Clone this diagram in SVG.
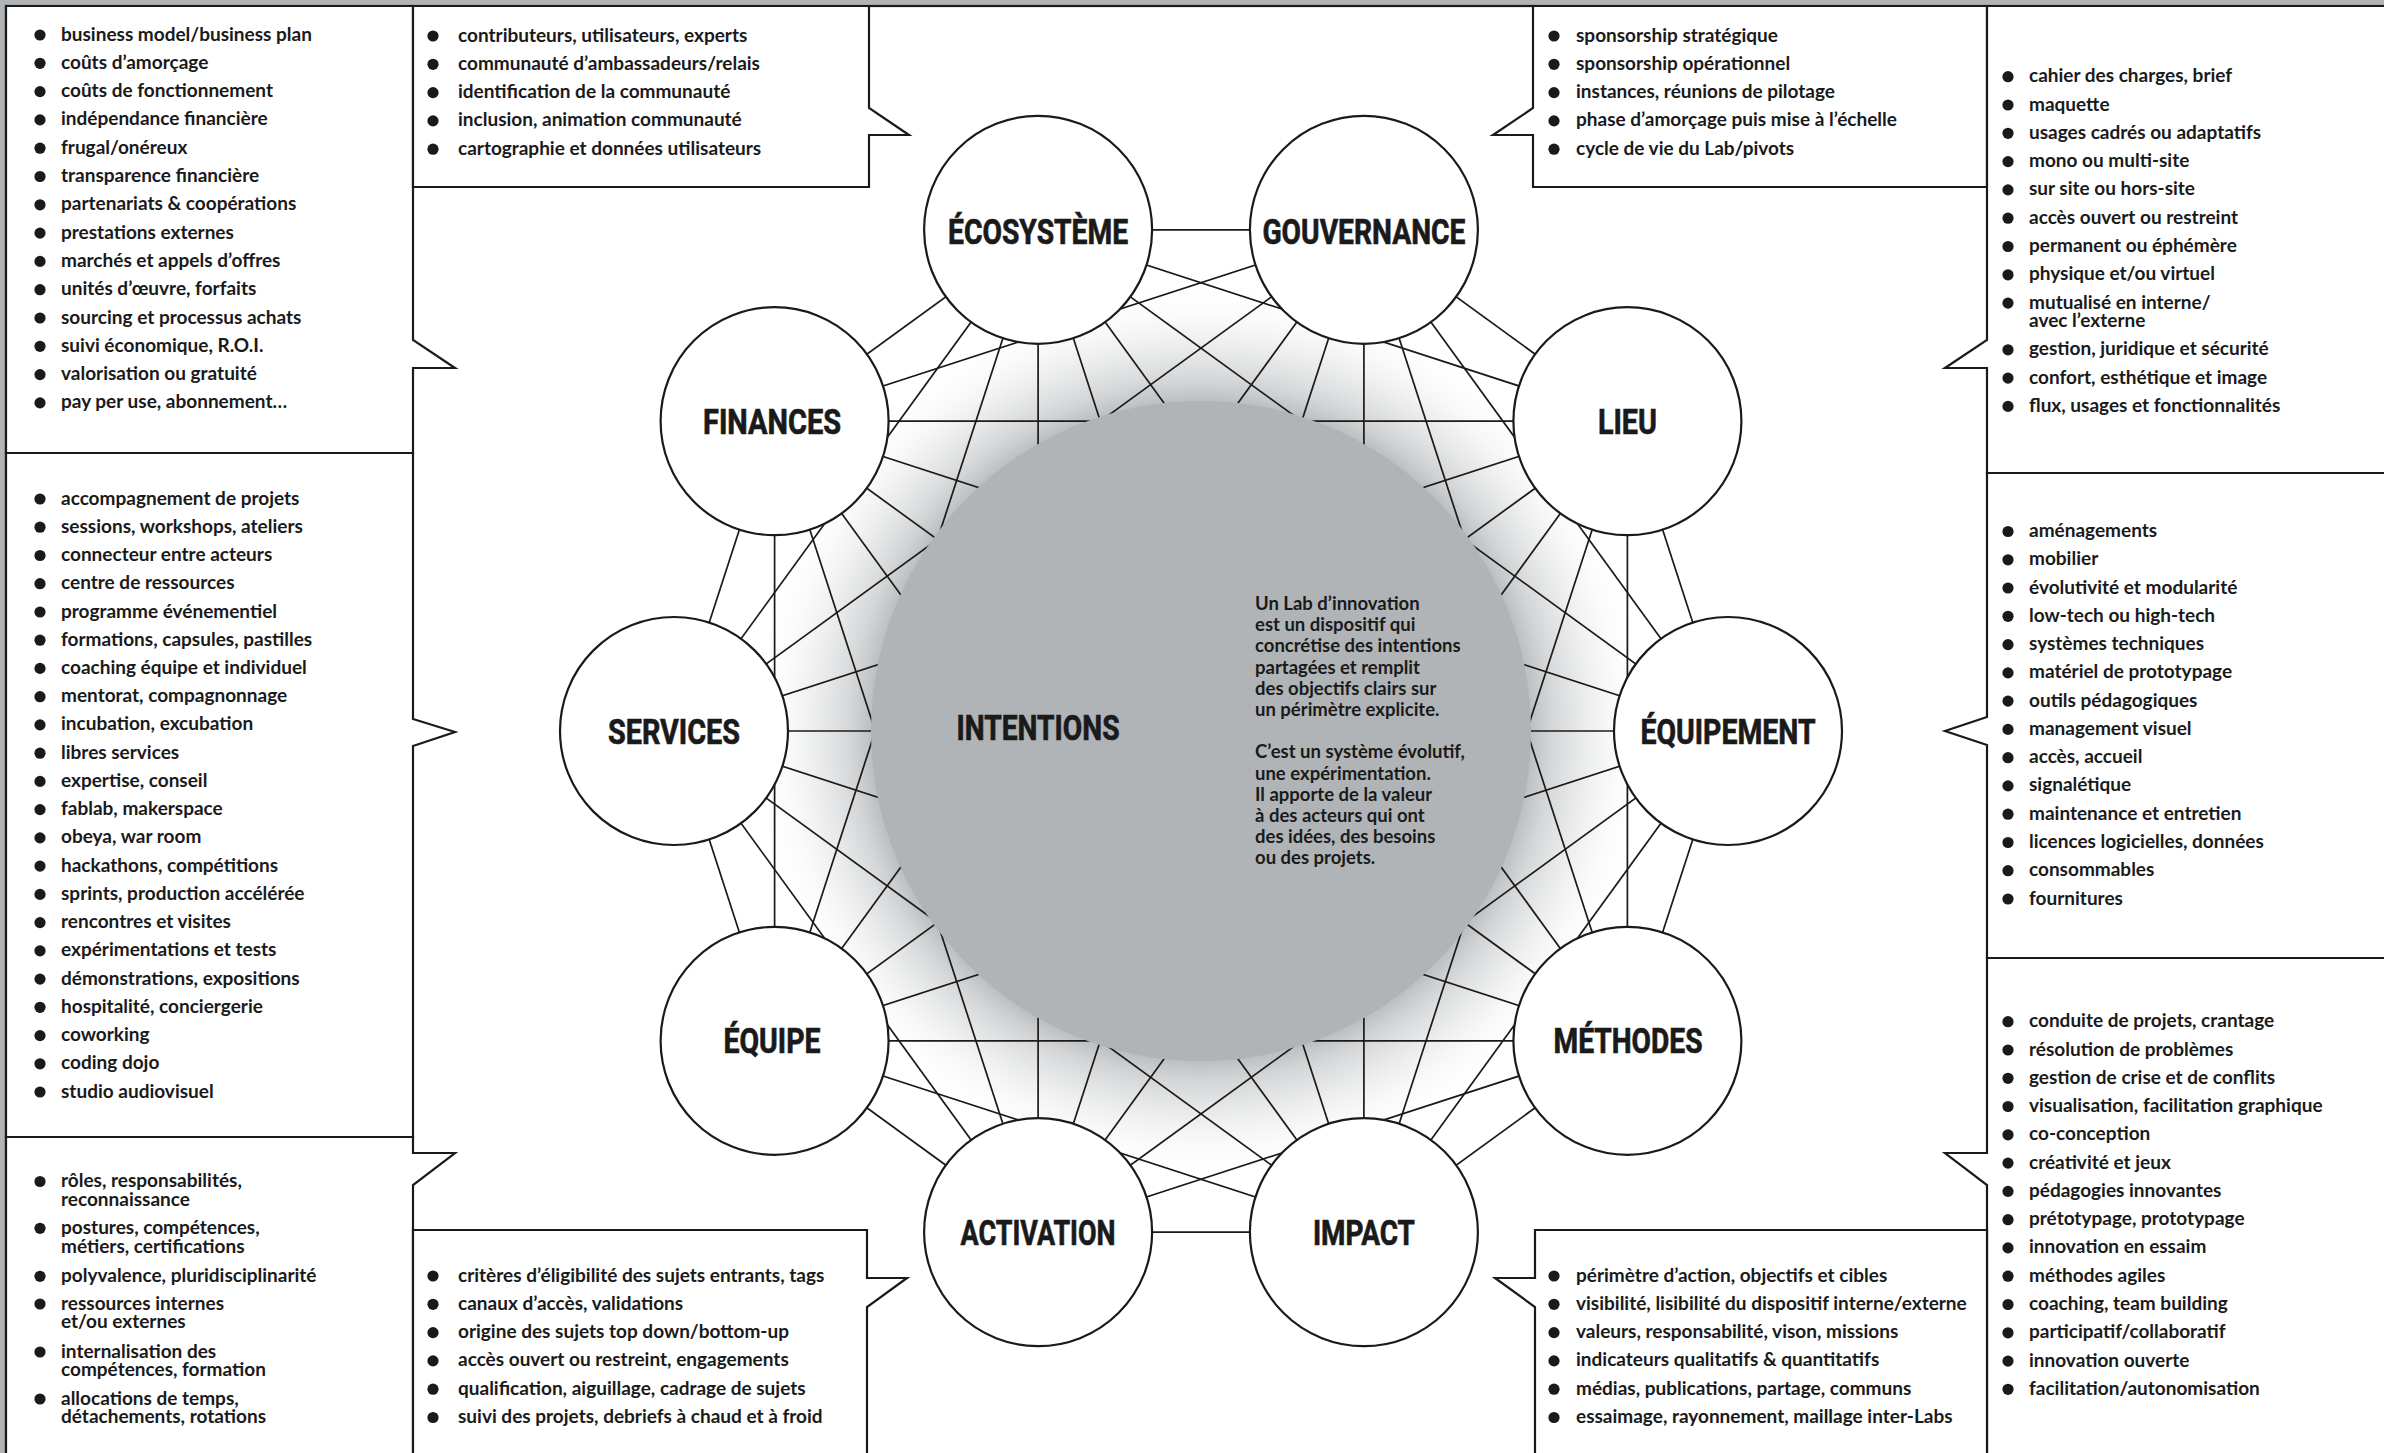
<svg xmlns="http://www.w3.org/2000/svg" xmlns:xlink="http://www.w3.org/1999/xlink" width="2384" height="1453" viewBox="0 0 2384 1453">
<style>
.box{fill:#fff;stroke:#1a1a1a;stroke-width:2.2;stroke-linejoin:miter}
.lst{font-family:Lato,"Liberation Sans",sans-serif;font-size:19px;font-weight:700;fill:#1a1a1a}
.bul{fill:#1a1a1a}
.nc{fill:#fff;stroke:#1a1a1a;stroke-width:2.2}
.lbl{font-family:Roboto,"Liberation Sans",sans-serif;font-weight:700;font-size:35px;fill:#1a1a1a;stroke:#1a1a1a;stroke-width:0.7;text-anchor:middle}
.edge{stroke:#1a1a1a;stroke-width:1.7}
.para{font-family:Lato,"Liberation Sans",sans-serif;font-size:18.5px;font-weight:700;fill:#1a1a1a}
</style>
<defs>
<circle id="b" r="5.6" class="bul"/>
<radialGradient id="sh" cx="1201" cy="731" r="450" gradientUnits="userSpaceOnUse">
<stop offset="0.70" stop-color="#a9adb0" stop-opacity="1"/>
<stop offset="0.78" stop-color="#c9cbcd" stop-opacity="0.8"/>
<stop offset="0.9" stop-color="#eceded" stop-opacity="0.5"/>
<stop offset="1" stop-color="#ffffff" stop-opacity="0"/>
</radialGradient>
</defs>
<rect x="0" y="0" width="2384" height="1453" fill="#b0b4b6"/>
<rect x="6" y="6" width="2390" height="1460" fill="#fff" stroke="#1a1a1a" stroke-width="2.2"/>

<circle cx="1201" cy="731" r="450" fill="url(#sh)"/>

<g id="connectors">
<line class="edge" x1="674" y1="731" x2="774.6" y2="421.2"/>
<line class="edge" x1="674" y1="731" x2="1038.1" y2="229.8"/>
<line class="edge" x1="674" y1="731" x2="1363.9" y2="229.8"/>
<line class="edge" x1="674" y1="731" x2="1627.4" y2="421.2"/>
<line class="edge" x1="674" y1="731" x2="1728" y2="731"/>
<line class="edge" x1="674" y1="731" x2="1627.4" y2="1040.8"/>
<line class="edge" x1="674" y1="731" x2="1363.9" y2="1232.2"/>
<line class="edge" x1="674" y1="731" x2="1038.1" y2="1232.2"/>
<line class="edge" x1="674" y1="731" x2="774.6" y2="1040.8"/>
<line class="edge" x1="774.6" y1="421.2" x2="1038.1" y2="229.8"/>
<line class="edge" x1="774.6" y1="421.2" x2="1363.9" y2="229.8"/>
<line class="edge" x1="774.6" y1="421.2" x2="1627.4" y2="421.2"/>
<line class="edge" x1="774.6" y1="421.2" x2="1728" y2="731"/>
<line class="edge" x1="774.6" y1="421.2" x2="1627.4" y2="1040.8"/>
<line class="edge" x1="774.6" y1="421.2" x2="1363.9" y2="1232.2"/>
<line class="edge" x1="774.6" y1="421.2" x2="1038.1" y2="1232.2"/>
<line class="edge" x1="774.6" y1="421.2" x2="774.6" y2="1040.8"/>
<line class="edge" x1="1038.1" y1="229.8" x2="1363.9" y2="229.8"/>
<line class="edge" x1="1038.1" y1="229.8" x2="1627.4" y2="421.2"/>
<line class="edge" x1="1038.1" y1="229.8" x2="1728" y2="731"/>
<line class="edge" x1="1038.1" y1="229.8" x2="1627.4" y2="1040.8"/>
<line class="edge" x1="1038.1" y1="229.8" x2="1363.9" y2="1232.2"/>
<line class="edge" x1="1038.1" y1="229.8" x2="1038.1" y2="1232.2"/>
<line class="edge" x1="1038.1" y1="229.8" x2="774.6" y2="1040.8"/>
<line class="edge" x1="1363.9" y1="229.8" x2="1627.4" y2="421.2"/>
<line class="edge" x1="1363.9" y1="229.8" x2="1728" y2="731"/>
<line class="edge" x1="1363.9" y1="229.8" x2="1627.4" y2="1040.8"/>
<line class="edge" x1="1363.9" y1="229.8" x2="1363.9" y2="1232.2"/>
<line class="edge" x1="1363.9" y1="229.8" x2="1038.1" y2="1232.2"/>
<line class="edge" x1="1363.9" y1="229.8" x2="774.6" y2="1040.8"/>
<line class="edge" x1="1627.4" y1="421.2" x2="1728" y2="731"/>
<line class="edge" x1="1627.4" y1="421.2" x2="1627.4" y2="1040.8"/>
<line class="edge" x1="1627.4" y1="421.2" x2="1363.9" y2="1232.2"/>
<line class="edge" x1="1627.4" y1="421.2" x2="1038.1" y2="1232.2"/>
<line class="edge" x1="1627.4" y1="421.2" x2="774.6" y2="1040.8"/>
<line class="edge" x1="1728" y1="731" x2="1627.4" y2="1040.8"/>
<line class="edge" x1="1728" y1="731" x2="1363.9" y2="1232.2"/>
<line class="edge" x1="1728" y1="731" x2="1038.1" y2="1232.2"/>
<line class="edge" x1="1728" y1="731" x2="774.6" y2="1040.8"/>
<line class="edge" x1="1627.4" y1="1040.8" x2="1363.9" y2="1232.2"/>
<line class="edge" x1="1627.4" y1="1040.8" x2="1038.1" y2="1232.2"/>
<line class="edge" x1="1627.4" y1="1040.8" x2="774.6" y2="1040.8"/>
<line class="edge" x1="1363.9" y1="1232.2" x2="1038.1" y2="1232.2"/>
<line class="edge" x1="1363.9" y1="1232.2" x2="774.6" y2="1040.8"/>
<line class="edge" x1="1038.1" y1="1232.2" x2="774.6" y2="1040.8"/>
</g>

<g id="intentions">
<circle cx="1201" cy="731" r="330" fill="#b0b4b6"/>
<text class="lbl" x="1038" y="740" textLength="163" lengthAdjust="spacingAndGlyphs">INTENTIONS</text>
<text class="para">
<tspan x="1255" y="610">Un Lab d’innovation</tspan>
<tspan x="1255" y="631.2">est un dispositif qui</tspan>
<tspan x="1255" y="652.4">concrétise des intentions</tspan>
<tspan x="1255" y="673.6">partagées et remplit</tspan>
<tspan x="1255" y="694.8">des objectifs clairs sur</tspan>
<tspan x="1255" y="716">un périmètre explicite.</tspan>
<tspan x="1255" y="758.4">C’est un système évolutif,</tspan>
<tspan x="1255" y="779.6">une expérimentation.</tspan>
<tspan x="1255" y="800.8">Il apporte de la valeur</tspan>
<tspan x="1255" y="822">à des acteurs qui ont</tspan>
<tspan x="1255" y="843.2">des idées, des besoins</tspan>
<tspan x="1255" y="864.4">ou des projets.</tspan>
</text>
</g>

<g id="node-services"><circle class="nc" cx="674" cy="731" r="114"/><text class="lbl" x="674" y="743.5" textLength="132" lengthAdjust="spacingAndGlyphs">SERVICES</text></g>
<g id="node-finances"><circle class="nc" cx="774.6" cy="421.2" r="114"/><text class="lbl" x="772" y="433.7" textLength="138" lengthAdjust="spacingAndGlyphs">FINANCES</text></g>
<g id="node-ecosysteme"><circle class="nc" cx="1038.1" cy="229.8" r="114"/><text class="lbl" x="1038.1" y="244" textLength="180" lengthAdjust="spacingAndGlyphs">ÉCOSYSTÈME</text></g>
<g id="node-gouvernance"><circle class="nc" cx="1363.9" cy="229.8" r="114"/><text class="lbl" x="1363.9" y="244" textLength="203" lengthAdjust="spacingAndGlyphs">GOUVERNANCE</text></g>
<g id="node-lieu"><circle class="nc" cx="1627.4" cy="421.2" r="114"/><text class="lbl" x="1627.4" y="433.7" textLength="59" lengthAdjust="spacingAndGlyphs">LIEU</text></g>
<g id="node-equipement"><circle class="nc" cx="1728" cy="731" r="114"/><text class="lbl" x="1728" y="743.5" textLength="175" lengthAdjust="spacingAndGlyphs">ÉQUIPEMENT</text></g>
<g id="node-methodes"><circle class="nc" cx="1627.4" cy="1040.8" r="114"/><text class="lbl" x="1628" y="1053.3" textLength="149" lengthAdjust="spacingAndGlyphs">MÉTHODES</text></g>
<g id="node-impact"><circle class="nc" cx="1363.9" cy="1232.2" r="114"/><text class="lbl" x="1363.9" y="1244.7" textLength="102" lengthAdjust="spacingAndGlyphs">IMPACT</text></g>
<g id="node-activation"><circle class="nc" cx="1038.1" cy="1232.2" r="114"/><text class="lbl" x="1038.1" y="1244.7" textLength="155" lengthAdjust="spacingAndGlyphs">ACTIVATION</text></g>
<g id="node-equipe"><circle class="nc" cx="774.6" cy="1040.8" r="114"/><text class="lbl" x="772" y="1053.3" textLength="97" lengthAdjust="spacingAndGlyphs">ÉQUIPE</text></g>

<g id="list-finances">
<path class="box" d="M6,6 H413 V340 L455,368 H413 V453 H6 Z"/>
<use href="#b" x="40" y="35"/><use href="#b" x="40" y="63.3"/><use href="#b" x="40" y="91.6"/><use href="#b" x="40" y="119.9"/><use href="#b" x="40" y="148.2"/><use href="#b" x="40" y="176.5"/><use href="#b" x="40" y="204.8"/><use href="#b" x="40" y="233.1"/><use href="#b" x="40" y="261.4"/><use href="#b" x="40" y="289.7"/><use href="#b" x="40" y="318"/><use href="#b" x="40" y="346.3"/><use href="#b" x="40" y="374.6"/><use href="#b" x="40" y="402.9"/>
<text class="lst">
<tspan x="61" y="40.5">business model/business plan</tspan>
<tspan x="61" y="68.8">coûts d’amorçage</tspan>
<tspan x="61" y="97.1">coûts de fonctionnement</tspan>
<tspan x="61" y="125.4">indépendance financière</tspan>
<tspan x="61" y="153.7">frugal/onéreux</tspan>
<tspan x="61" y="182">transparence financière</tspan>
<tspan x="61" y="210.3">partenariats &amp; coopérations</tspan>
<tspan x="61" y="238.6">prestations externes</tspan>
<tspan x="61" y="266.9">marchés et appels d’offres</tspan>
<tspan x="61" y="295.2">unités d’œuvre, forfaits</tspan>
<tspan x="61" y="323.5">sourcing et processus achats</tspan>
<tspan x="61" y="351.8">suivi économique, R.O.I.</tspan>
<tspan x="61" y="380.1">valorisation ou gratuité</tspan>
<tspan x="61" y="408.4">pay per use, abonnement…</tspan>
</text>
</g>

<g id="list-services">
<path class="box" d="M6,453 H413 V719 L455,732 L413,746 V1137 H6 Z"/>
<use href="#b" x="40" y="499"/><use href="#b" x="40" y="527.2"/><use href="#b" x="40" y="555.5"/><use href="#b" x="40" y="583.7"/><use href="#b" x="40" y="612"/><use href="#b" x="40" y="640.2"/><use href="#b" x="40" y="668.4"/><use href="#b" x="40" y="696.7"/><use href="#b" x="40" y="724.9"/><use href="#b" x="40" y="753.2"/><use href="#b" x="40" y="781.4"/><use href="#b" x="40" y="809.6"/><use href="#b" x="40" y="837.9"/><use href="#b" x="40" y="866.1"/><use href="#b" x="40" y="894.4"/><use href="#b" x="40" y="922.6"/><use href="#b" x="40" y="950.8"/><use href="#b" x="40" y="979.1"/><use href="#b" x="40" y="1007.3"/><use href="#b" x="40" y="1035.6"/><use href="#b" x="40" y="1063.8"/><use href="#b" x="40" y="1092"/>
<text class="lst">
<tspan x="61" y="504.5">accompagnement de projets</tspan>
<tspan x="61" y="532.7">sessions, workshops, ateliers</tspan>
<tspan x="61" y="561">connecteur entre acteurs</tspan>
<tspan x="61" y="589.2">centre de ressources</tspan>
<tspan x="61" y="617.5">programme événementiel</tspan>
<tspan x="61" y="645.7">formations, capsules, pastilles</tspan>
<tspan x="61" y="673.9">coaching équipe et individuel</tspan>
<tspan x="61" y="702.2">mentorat, compagnonnage</tspan>
<tspan x="61" y="730.4">incubation, excubation</tspan>
<tspan x="61" y="758.7">libres services</tspan>
<tspan x="61" y="786.9">expertise, conseil</tspan>
<tspan x="61" y="815.1">fablab, makerspace</tspan>
<tspan x="61" y="843.4">obeya, war room</tspan>
<tspan x="61" y="871.6">hackathons, compétitions</tspan>
<tspan x="61" y="899.9">sprints, production accélérée</tspan>
<tspan x="61" y="928.1">rencontres et visites</tspan>
<tspan x="61" y="956.3">expérimentations et tests</tspan>
<tspan x="61" y="984.6">démonstrations, expositions</tspan>
<tspan x="61" y="1012.8">hospitalité, conciergerie</tspan>
<tspan x="61" y="1041.1">coworking</tspan>
<tspan x="61" y="1069.3">coding dojo</tspan>
<tspan x="61" y="1097.5">studio audiovisuel</tspan>
</text>
</g>

<g id="list-equipe">
<path class="box" d="M6,1137 H413 V1153 H455 L413,1185 V1470 H6 Z"/>
<use href="#b" x="40" y="1181.5"/><use href="#b" x="40" y="1228.3"/><use href="#b" x="40" y="1276.3"/><use href="#b" x="40" y="1304"/><use href="#b" x="40" y="1352"/><use href="#b" x="40" y="1399"/>
<text class="lst">
<tspan x="61" y="1187">rôles, responsabilités,</tspan>
<tspan x="61" y="1205.7">reconnaissance</tspan>
<tspan x="61" y="1233.8">postures, compétences,</tspan>
<tspan x="61" y="1252.5">métiers, certifications</tspan>
<tspan x="61" y="1281.8">polyvalence, pluridisciplinarité</tspan>
<tspan x="61" y="1309.5">ressources internes</tspan>
<tspan x="61" y="1328.2">et/ou externes</tspan>
<tspan x="61" y="1357.5">internalisation des</tspan>
<tspan x="61" y="1376.2">compétences, formation</tspan>
<tspan x="61" y="1404.5">allocations de temps,</tspan>
<tspan x="61" y="1423.2">détachements, rotations</tspan>
</text>
</g>

<g id="list-ecosysteme">
<path class="box" d="M413,6 H869 V108 L909,135 H869 V187 H413 Z"/>
<use href="#b" x="433" y="36"/><use href="#b" x="433" y="64.3"/><use href="#b" x="433" y="92.6"/><use href="#b" x="433" y="120.9"/><use href="#b" x="433" y="149.2"/>
<text class="lst">
<tspan x="458" y="41.5">contributeurs, utilisateurs, experts</tspan>
<tspan x="458" y="69.8">communauté d’ambassadeurs/relais</tspan>
<tspan x="458" y="98.1">identification de la communauté</tspan>
<tspan x="458" y="126.4">inclusion, animation communauté</tspan>
<tspan x="458" y="154.7">cartographie et données utilisateurs</tspan>
</text>
</g>

<g id="list-gouvernance">
<path class="box" d="M1533,6 H1987 V187 H1533 V135 H1493 L1533,108 Z"/>
<use href="#b" x="1554" y="36"/><use href="#b" x="1554" y="64.3"/><use href="#b" x="1554" y="92.6"/><use href="#b" x="1554" y="120.9"/><use href="#b" x="1554" y="149.2"/>
<text class="lst">
<tspan x="1576" y="41.5">sponsorship stratégique</tspan>
<tspan x="1576" y="69.8">sponsorship opérationnel</tspan>
<tspan x="1576" y="98.1">instances, réunions de pilotage</tspan>
<tspan x="1576" y="126.4">phase d’amorçage puis mise à l’échelle</tspan>
<tspan x="1576" y="154.7">cycle de vie du Lab/pivots</tspan>
</text>
</g>

<g id="list-lieu">
<path class="box" d="M1987,6 H2400 V473 H1987 V368 H1945 L1987,340 Z"/>
<use href="#b" x="2008" y="76.7"/><use href="#b" x="2008" y="105"/><use href="#b" x="2008" y="133.3"/><use href="#b" x="2008" y="161.6"/><use href="#b" x="2008" y="189.9"/><use href="#b" x="2008" y="218.2"/><use href="#b" x="2008" y="246.5"/><use href="#b" x="2008" y="274.8"/><use href="#b" x="2008" y="303.1"/><use href="#b" x="2008" y="349.8"/><use href="#b" x="2008" y="378.1"/><use href="#b" x="2008" y="406.4"/>
<text class="lst">
<tspan x="2029" y="82.2">cahier des charges, brief</tspan>
<tspan x="2029" y="110.5">maquette</tspan>
<tspan x="2029" y="138.8">usages cadrés ou adaptatifs</tspan>
<tspan x="2029" y="167.1">mono ou multi-site</tspan>
<tspan x="2029" y="195.4">sur site ou hors-site</tspan>
<tspan x="2029" y="223.7">accès ouvert ou restreint</tspan>
<tspan x="2029" y="252">permanent ou éphémère</tspan>
<tspan x="2029" y="280.3">physique et/ou virtuel</tspan>
<tspan x="2029" y="308.6">mutualisé en interne/</tspan>
<tspan x="2029" y="327.3">avec l’externe</tspan>
<tspan x="2029" y="355.3">gestion, juridique et sécurité</tspan>
<tspan x="2029" y="383.6">confort, esthétique et image</tspan>
<tspan x="2029" y="411.9">flux, usages et fonctionnalités</tspan>
</text>
</g>

<g id="list-equipement">
<path class="box" d="M1987,473 H2400 V958 H1987 V745 L1945,731 L1987,717 Z"/>
<use href="#b" x="2008" y="531.5"/><use href="#b" x="2008" y="559.8"/><use href="#b" x="2008" y="588"/><use href="#b" x="2008" y="616.3"/><use href="#b" x="2008" y="644.6"/><use href="#b" x="2008" y="672.9"/><use href="#b" x="2008" y="701.1"/><use href="#b" x="2008" y="729.4"/><use href="#b" x="2008" y="757.7"/><use href="#b" x="2008" y="785.9"/><use href="#b" x="2008" y="814.2"/><use href="#b" x="2008" y="842.5"/><use href="#b" x="2008" y="870.7"/><use href="#b" x="2008" y="899"/>
<text class="lst">
<tspan x="2029" y="537">aménagements</tspan>
<tspan x="2029" y="565.3">mobilier</tspan>
<tspan x="2029" y="593.5">évolutivité et modularité</tspan>
<tspan x="2029" y="621.8">low-tech ou high-tech</tspan>
<tspan x="2029" y="650.1">systèmes techniques</tspan>
<tspan x="2029" y="678.4">matériel de prototypage</tspan>
<tspan x="2029" y="706.6">outils pédagogiques</tspan>
<tspan x="2029" y="734.9">management visuel</tspan>
<tspan x="2029" y="763.2">accès, accueil</tspan>
<tspan x="2029" y="791.4">signalétique</tspan>
<tspan x="2029" y="819.7">maintenance et entretien</tspan>
<tspan x="2029" y="848">licences logicielles, données</tspan>
<tspan x="2029" y="876.2">consommables</tspan>
<tspan x="2029" y="904.5">fournitures</tspan>
</text>
</g>

<g id="list-methodes">
<path class="box" d="M1987,958 H2400 V1470 H1987 V1185 L1945,1153 H1987 Z"/>
<use href="#b" x="2008" y="1021.7"/><use href="#b" x="2008" y="1050"/><use href="#b" x="2008" y="1078.3"/><use href="#b" x="2008" y="1106.5"/><use href="#b" x="2008" y="1134.8"/><use href="#b" x="2008" y="1163.1"/><use href="#b" x="2008" y="1191.4"/><use href="#b" x="2008" y="1219.7"/><use href="#b" x="2008" y="1247.9"/><use href="#b" x="2008" y="1276.2"/><use href="#b" x="2008" y="1304.5"/><use href="#b" x="2008" y="1332.8"/><use href="#b" x="2008" y="1361.1"/><use href="#b" x="2008" y="1389.3"/>
<text class="lst">
<tspan x="2029" y="1027.2">conduite de projets, crantage</tspan>
<tspan x="2029" y="1055.5">résolution de problèmes</tspan>
<tspan x="2029" y="1083.8">gestion de crise et de conflits</tspan>
<tspan x="2029" y="1112">visualisation, facilitation graphique</tspan>
<tspan x="2029" y="1140.3">co-conception</tspan>
<tspan x="2029" y="1168.6">créativité et jeux</tspan>
<tspan x="2029" y="1196.9">pédagogies innovantes</tspan>
<tspan x="2029" y="1225.2">prétotypage, prototypage</tspan>
<tspan x="2029" y="1253.4">innovation en essaim</tspan>
<tspan x="2029" y="1281.7">méthodes agiles</tspan>
<tspan x="2029" y="1310">coaching, team building</tspan>
<tspan x="2029" y="1338.3">participatif/collaboratif</tspan>
<tspan x="2029" y="1366.6">innovation ouverte</tspan>
<tspan x="2029" y="1394.8">facilitation/autonomisation</tspan>
</text>
</g>

<g id="list-activation">
<path class="box" d="M413,1230 H867 V1278 H907 L867,1307 V1470 H413 Z"/>
<use href="#b" x="433" y="1276"/><use href="#b" x="433" y="1304.3"/><use href="#b" x="433" y="1332.6"/><use href="#b" x="433" y="1360.9"/><use href="#b" x="433" y="1389.2"/><use href="#b" x="433" y="1417.5"/>
<text class="lst">
<tspan x="458" y="1281.5">critères d’éligibilité des sujets entrants, tags</tspan>
<tspan x="458" y="1309.8">canaux d’accès, validations</tspan>
<tspan x="458" y="1338.1">origine des sujets top down/bottom-up</tspan>
<tspan x="458" y="1366.4">accès ouvert ou restreint, engagements</tspan>
<tspan x="458" y="1394.7">qualification, aiguillage, cadrage de sujets</tspan>
<tspan x="458" y="1423">suivi des projets, debriefs à chaud et à froid</tspan>
</text>
</g>

<g id="list-impact">
<path class="box" d="M1535,1230 H1987 V1470 H1535 V1307 L1495,1278 H1535 Z"/>
<use href="#b" x="1554" y="1276"/><use href="#b" x="1554" y="1304.3"/><use href="#b" x="1554" y="1332.6"/><use href="#b" x="1554" y="1360.9"/><use href="#b" x="1554" y="1389.2"/><use href="#b" x="1554" y="1417.5"/>
<text class="lst">
<tspan x="1576" y="1281.5">périmètre d’action, objectifs et cibles</tspan>
<tspan x="1576" y="1309.8">visibilité, lisibilité du dispositif interne/externe</tspan>
<tspan x="1576" y="1338.1">valeurs, responsabilité, vison, missions</tspan>
<tspan x="1576" y="1366.4">indicateurs qualitatifs &amp; quantitatifs</tspan>
<tspan x="1576" y="1394.7">médias, publications, partage, communs</tspan>
<tspan x="1576" y="1423">essaimage, rayonnement, maillage inter-Labs</tspan>
</text>
</g>
</svg>
